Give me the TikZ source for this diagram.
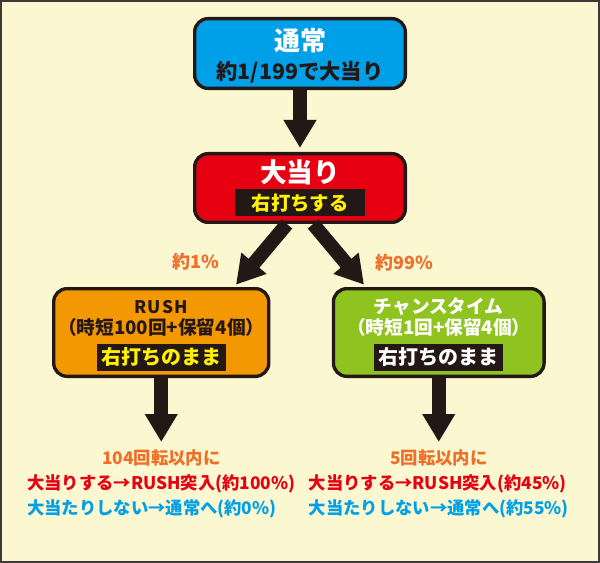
\documentclass[tikz,border=0pt]{standalone}
\usepackage{fontspec}
\setmainfont{Noto Sans CJK JP}
\usetikzlibrary{arrows.meta,positioning}

\definecolor{cream}{HTML}{FBF7D0}
\definecolor{frame}{HTML}{3E3A39}
\definecolor{ink}{HTML}{231815}
\definecolor{sky}{HTML}{00A0E9}
\definecolor{scarlet}{HTML}{E60012}
\definecolor{amber}{HTML}{F39800}
\definecolor{lime}{HTML}{8FC31F}
\definecolor{lemon}{HTML}{FFF100}
\definecolor{tangerine}{HTML}{EF6F2A}

% black band behind the shooting instruction
\newcommand{\band}[2]{{\setlength{\fboxsep}{0pt}%
  \colorbox{ink}{\makebox[97pt]{\rule[-4.8pt]{0pt}{20.25pt}\textcolor{#1}{#2}}}}}

\begin{document}
\begin{tikzpicture}[x=0.75pt, y=-0.75pt,
		box/.style={rectangle, rounded corners=10pt, draw=ink, line width=2.5pt,
			minimum width=158pt, align=center, text=white},
		level 1/.style={level distance=100.875pt},
		level 2/.style={level distance=108.375pt, sibling distance=208.125pt},
		level 3/.style={level distance=114.2pt,
			edge from parent path={(\tikzparentnode\tikzparentanchor) -- (\tikzchildnode\tikzchildanchor)},
			edge from parent/.append style={shorten >=3.75pt}},
		edge from parent/.style={draw=ink, line width=10.5pt,
			-{Triangle[width=23.25pt, length=21pt]}, shorten >=3pt},
		pct/.style={text=tangerine, font=\bfseries\fontsize{13.5pt}{16pt}\selectfont},
		result/.style={inner sep=0pt, font=\bfseries\fontsize{13pt}{18.75pt}\selectfont}
		]
	\useasboundingbox (0,0) rectangle (600,563);
	\draw[frame, line width=1.5pt, fill=cream] (1,1) rectangle (599,562);

	\node [box, fill=sky, minimum height=52.3pt,
		font=\bfseries\fontsize{16pt}{22pt}\selectfont] (normal) at (300,53.5)
		{\rule{0pt}{20pt}{\fontsize{19.5pt}{22pt}\selectfont 通常}\\ \textcolor{ink}{約1/199で大当り}}
	  child {
		node [box, fill=scarlet, minimum height=51.5pt,
			font=\bfseries\fontsize{14.5pt}{20.8pt}\selectfont] (jackpot)
			{{\fontsize{20pt}{20pt}\selectfont 大当り}\\ \band{lemon}{右打ちする}}
			child[edge from parent path={(\tikzparentnode.-110) -- (\tikzchildnode.32)},
				edge from parent/.append style={shorten >=2.25pt}] {
				node [box, fill=amber, minimum height=65.75pt, text=ink,
					font=\bfseries\fontsize{14pt}{17.7pt}\selectfont] (rush)
					{\rule{0pt}{15pt}{\fontsize{13pt}{17.7pt}\selectfont\addfontfeature{LetterSpace=8}RUSH}\\[-1.9pt]
					（時短100回+保留4個）\\[4.8pt]
					{\fontsize{15pt}{17.7pt}\selectfont\band{lemon}{右打ちのまま}}}
				child {
					node [result] (rushres) {\begin{tabular}{@{}l@{}}
						\multicolumn{1}{@{}c@{}}{\textcolor{tangerine}{104回転以内に}}\\
						\textcolor{scarlet}{大当りする→RUSH突入(約100\%)}\\
						\textcolor{sky}{大当たりしない→通常へ(約0\%)}
					\end{tabular}}
				}
			}
			child[edge from parent path={(\tikzparentnode.-70) -- (\tikzchildnode.148)},
				edge from parent/.append style={shorten >=2.25pt}] {
				node [box, fill=lime, minimum height=65.75pt,
					font=\bfseries\fontsize{14pt}{17.7pt}\selectfont] (chance)
					{\rule{0pt}{15pt}チャンスタイム\\[-1.9pt]
					（時短1回+保留4個）\\[4.8pt]
					{\fontsize{15pt}{17.7pt}\selectfont\band{white}{右打ちのまま}}}
				child {
					node [result] (chanceres) {\begin{tabular}{@{}l@{}}
						\multicolumn{1}{@{}c@{}}{\textcolor{tangerine}{5回転以内に}}\\
						\textcolor{scarlet}{大当りする→RUSH突入(約45\%)}\\
						\textcolor{sky}{大当たりしない→通常へ(約55\%)}
					\end{tabular}}
				}
			}
	  };

	\node [pct] (rate1) at (196,262) {約1\%};
	\node [pct] (rate99) at (404,263) {約99\%};
\end{tikzpicture}
\end{document}
